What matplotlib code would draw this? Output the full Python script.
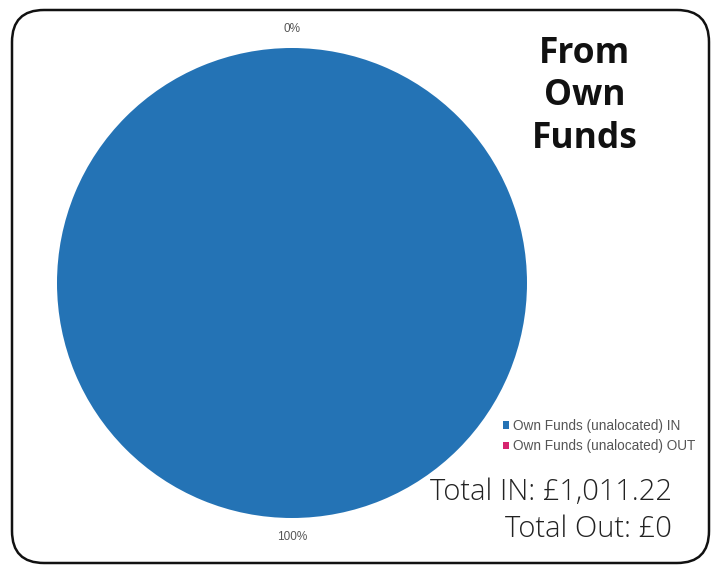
import matplotlib
matplotlib.use('Agg')
import matplotlib.pyplot as plt
from matplotlib.patches import FancyBboxPatch
from matplotlib.transforms import IdentityTransform

# Data
names = ['Own Funds (unalocated) IN', 'Own Funds (unalocated) OUT']
amounts = [1011.22, 0.0]
colors = ['#2473b5', '#d6246e']
title_lines = ['From', 'Own', 'Funds']
total_lines = ['Total IN: £1,011.22', 'Total Out: £0']

W, H = 715, 566


def main():
    fig = plt.figure(figsize=(W / 100, H / 100), dpi=100)

    # pie centre (292, 283) px from top-left, radius 235 px
    cx, cy, r = 292, 283, 235
    ax = fig.add_axes([(cx - r) / W, (H - cy - r) / H, 2 * r / W, 2 * r / H])
    wedges, _, autotexts = ax.pie(amounts, colors=colors, startangle=90,
                                  autopct='%.0f%%', pctdistance=1.08,
                                  textprops={'fontsize': 8.5, 'color': '#555555',
                                             'family': 'Liberation Sans'})
    ax.set_xlim(-1, 1)
    ax.set_ylim(-1, 1)
    ax.set_aspect('equal')
    ax.axis('off')

    fig.legend(wedges, names, loc='upper left',
               bbox_to_anchor=(503 / W, 1 - 419 / H), frameon=False,
               handlelength=0.45, handleheight=0.45, handletextpad=0.25,
               labelspacing=0.45, borderpad=0, borderaxespad=0,
               prop={'family': 'Liberation Sans', 'size': 9.8},
               labelcolor='#555555')

    # title, one line at a time (baselines in px from top)
    for txt, base in zip(title_lines, [63, 105, 148]):
        fig.text(585 / W, 1 - base / H, txt, ha='center', va='baseline',
                 fontsize=25.5, fontweight='bold', family='Open Sans',
                 color='#111111')

    for txt, base in zip(total_lines, [500, 537]):
        fig.text(672 / W, 1 - base / H, txt, ha='right', va='baseline',
                 fontsize=21, fontweight='light', family='Open Sans',
                 color='#222222')

    border = FancyBboxPatch((12, H - 563), 697, 553,
                            boxstyle='round,pad=0,rounding_size=32',
                            fill=False, edgecolor='#111111', linewidth=1.8,
                            transform=IdentityTransform())
    fig.patches.append(border)

    fig.savefig('out.png', dpi=100)


if __name__ == '__main__':
    main()
